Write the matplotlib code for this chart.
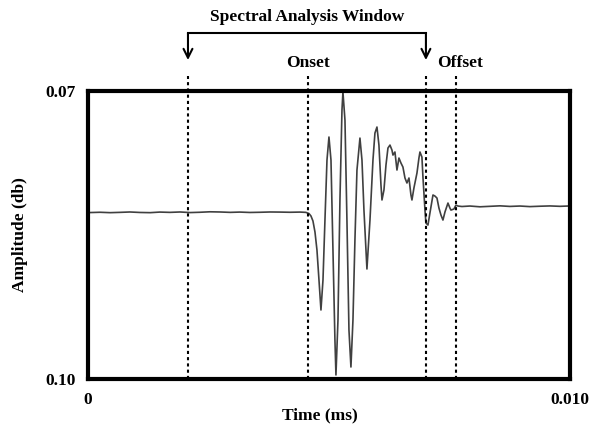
import matplotlib
matplotlib.use('Agg')
import matplotlib.pyplot as plt

plt.rcParams['font.family'] = ['Liberation Serif', 'DejaVu Serif']
plt.rcParams['font.weight'] = 'bold'

# waveform (time in ms, amplitude in db)
time_ms = [0.00004, 0.00025, 0.00046, 0.00066, 0.00087, 0.00108, 0.00129, 0.00149,
           0.00170, 0.00191, 0.00212, 0.00232, 0.00253, 0.00274, 0.00295, 0.00315,
           0.00336, 0.00357, 0.00378, 0.00398, 0.00419, 0.00440, 0.00452,
           0.004585, 0.004627, 0.004668, 0.004710, 0.004751, 0.004793, 0.004834,
           0.004876, 0.004917, 0.004959, 0.005000, 0.005042, 0.005083, 0.005124,
           0.005145, 0.005187, 0.005228, 0.005270, 0.005290, 0.005332, 0.005373,
           0.005415, 0.005456, 0.005498, 0.005539, 0.005581, 0.005643, 0.005685,
           0.005726, 0.005788, 0.005851, 0.005913, 0.005954, 0.005996, 0.006037,
           0.006079, 0.006100, 0.006141, 0.006183, 0.006224, 0.006266, 0.006307,
           0.006328, 0.006369, 0.006411, 0.006452, 0.006494, 0.006535, 0.006577,
           0.006618, 0.006660, 0.006701, 0.006722, 0.006763, 0.006784, 0.006826,
           0.006867, 0.006888, 0.006929, 0.006950, 0.006992, 0.007012, 0.007054,
           0.007095, 0.007158, 0.007199, 0.007241, 0.007282, 0.007324, 0.007365,
           0.007407, 0.007469, 0.007510, 0.007531, 0.007593, 0.007635, 0.007676,
           0.007759, 0.007925, 0.008133, 0.008340, 0.008548, 0.008755, 0.008963,
           0.009170, 0.009378, 0.009585, 0.009793, 0.009959]
amplitude = [0.08266, 0.08263, 0.08267, 0.08264, 0.08260, 0.08265, 0.08267, 0.08261,
             0.08264, 0.08260, 0.08266, 0.08263, 0.08258, 0.08260, 0.08264, 0.08261,
             0.08265, 0.08263, 0.08260, 0.08261, 0.08263, 0.08261, 0.08264,
             0.08276, 0.08302, 0.08354, 0.08469, 0.08656, 0.08969, 0.09281,
             0.08969, 0.08344, 0.07719, 0.07479, 0.07719, 0.08656, 0.09594,
             0.09958, 0.09385, 0.08135, 0.07198, 0.07010, 0.07302, 0.08344,
             0.09490, 0.09875, 0.09385, 0.08552, 0.07823, 0.07490, 0.07719,
             0.08240, 0.08854, 0.08344, 0.07719, 0.07438, 0.07375, 0.07563,
             0.07979, 0.08135, 0.08031, 0.07771, 0.07594, 0.07563, 0.07615,
             0.07667, 0.07635, 0.07823, 0.07698, 0.07750, 0.07792, 0.07906,
             0.07958, 0.07906, 0.08083, 0.08135, 0.08010, 0.07958, 0.07854,
             0.07698, 0.07635, 0.07688, 0.07896, 0.08240, 0.08375, 0.08396,
             0.08271, 0.08083, 0.08094, 0.08115, 0.08219, 0.08292, 0.08344,
             0.08260, 0.08167, 0.08219, 0.08240, 0.08229, 0.08188, 0.08198,
             0.08203, 0.08198, 0.08206, 0.08201, 0.08196, 0.08202, 0.08198,
             0.08204, 0.08200, 0.08197, 0.08201, 0.08198]

# marker lines (ms)
window_start = 0.002075
onset = 0.004564
offset_start = 0.007012
offset_end = 0.007635

x_ticks = [0, 0.010]
x_labels = ['0', '0.010']
y_ticks = [0.07, 0.10]
y_labels = ['0.07', '0.10']

fig = plt.figure(figsize=(5.94, 4.24), dpi=100)
ax = fig.add_axes([0.1481, 0.1061, 0.8114, 0.6792])

ax.plot(time_ms, amplitude, color='#404040', linewidth=1.2)

ax.set_xlim(0, 0.010)
ax.set_ylim(0.10, 0.07)
ax.set_xticks(x_ticks)
ax.set_xticklabels(x_labels)
ax.set_yticks(y_ticks)
ax.set_yticklabels(y_labels)
ax.tick_params(length=0, labelsize=12.5, pad=9)
for lab in ax.get_xticklabels() + ax.get_yticklabels():
    lab.set_fontweight('bold')

for s in ax.spines.values():
    s.set_linewidth(3)

# dashed markers, extending a bit above the box
for xv in [window_start, onset, offset_start, offset_end]:
    ax.axvline(xv, ymin=0, ymax=1.052, clip_on=False, color='black',
               linestyle=(0, (1.5, 1.5)), linewidth=1.5)

trans = ax.get_xaxis_transform()
bracket_y = 1.2014
tip_y = 1.1076
ax.plot([window_start, offset_start], [bracket_y, bracket_y], color='black',
        linewidth=1.5, transform=trans, clip_on=False)
for xv in [window_start, offset_start]:
    ax.annotate('', xy=(xv, tip_y), xytext=(xv, bracket_y), xycoords=trans,
                textcoords=trans,
                arrowprops=dict(arrowstyle='->', lw=1.5, color='black',
                                shrinkA=0, shrinkB=0, mutation_scale=16))

ax.text((window_start + offset_start) / 2, 1.257, 'Spectral Analysis Window',
        transform=trans, ha='center', va='center', fontsize=12.5, fontweight='bold')
ax.text(onset, 1.097, 'Onset', transform=trans, ha='center', va='center',
        fontsize=12.5, fontweight='bold')
ax.text(offset_end + 0.00008, 1.097, 'Offset', transform=trans, ha='center',
        va='center', fontsize=12.5, fontweight='bold')

fig.text(320 / 594, 1 - 415 / 424, 'Time (ms)', ha='center', va='center',
         fontsize=12.5, fontweight='bold')
fig.text(20 / 594, 1 - 235 / 424, 'Amplitude (db)', ha='center', va='center',
         rotation=90, fontsize=12.5, fontweight='bold')

fig.savefig('out.png', dpi=100)
